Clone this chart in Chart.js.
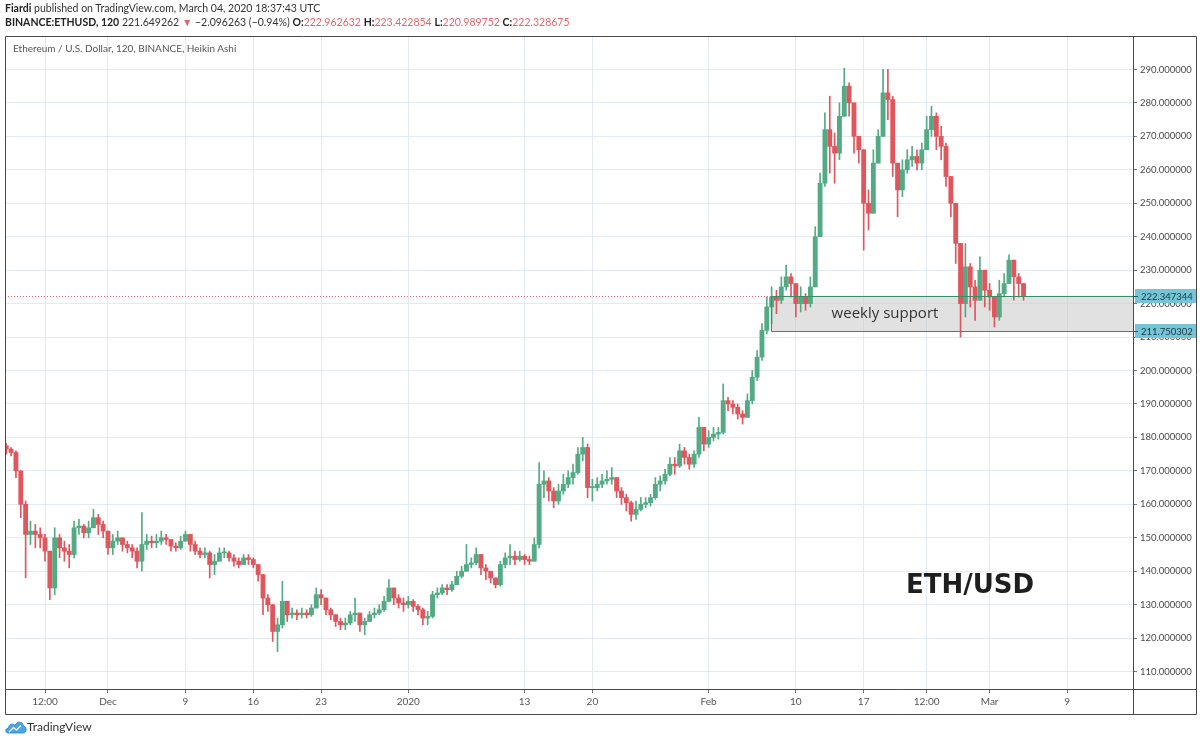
<!DOCTYPE html>
<html>
<head>
<meta charset="utf-8">
<title>ETH/USD</title>
<script src="https://cdn.jsdelivr.net/npm/chart.js@4.4.1/dist/chart.umd.min.js"></script>
<style>
  body { margin: 0; background: #fff; }
  #wrap { position: relative; width: 1200px; height: 740px; font-family: Lato, 'Open Sans', sans-serif; color: #333; overflow: hidden; }
  #wrap canvas { position: absolute; left: 0; top: 0; }
  .txt { position: absolute; white-space: nowrap; pointer-events: none; }
  .hdr { left: 5px; font-size: 10.5px; line-height: 14px; color: #333; }
  .red { color: #e0676f; }
  b { font-weight: 700; color: #222; }
</style>
</head>
<body>
<div id="wrap">
  <canvas id="ethChart" width="1200" height="740"></canvas>
  <div class="txt hdr" style="top:1px"><b>Fiardi</b> published on TradingView.com, March 04, 2020 18:37:43 UTC</div>
  <div class="txt hdr" style="top:15px"><b>BINANCE:ETHUSD, 120</b> 221.649262 <span class="red">&#9660;</span> &minus;2.096263 (&minus;0.94%) <b>O:</b><span class="red">222.962632</span> <b>H:</b><span class="red">223.422854</span> <b>L:</b><span class="red">220.989752</span> <b>C:</b><span class="red">222.328675</span></div>
  <div class="txt" style="left:13px; top:42px; font-size:10px; color:#555;">Ethereum / U.S. Dollar, 120, BINANCE, Heikin Ashi</div>
  <div class="txt" style="left:870px; width:200px; top:568px; text-align:center; font-family:'DejaVu Sans', sans-serif; font-weight:bold; font-size:26px; line-height:32px; color:#1e1e1e;">ETH/USD</div>
  <div class="txt" style="left:5px; top:718px;">
    <svg width="22" height="14" viewBox="0 0 22 14">
      <path d="M3 13 C0 13 0 8 3.5 8 C3.5 4 8 3 10 5.5 C11.5 1 18 1 18.5 6 C22 6 22 13 18.5 13 Z" fill="#47a6e6" stroke="#2a7fc4" stroke-width="0.8"/>
      <path d="M4 12 L8.5 7.5 L11.5 10 L16 5.5" fill="none" stroke="#ffffff" stroke-width="1.2"/>
    </svg>
  </div>
  <div class="txt" style="left:27px; top:719px; font-size:12px; line-height:15px; color:#333;">TradingView</div>
</div>

<script>
// 12h Heikin Ashi candles, x = days from Dec 1 2019 (first candle Nov 20 12:00 UTC)
const startDay = -10.5;
const firstOpen = 177.5;

const closes = [
  176.5, 175.5, 170, 160, 151, 152, 151, 150, 146, 135,
  150, 147, 146, 145, 153, 153.5, 151.5, 153, 156, 154,
  152, 147, 149, 150, 148, 147, 146, 143, 148, 149,
  148.5, 149, 150, 149.5, 147.5, 147, 149, 151, 148, 146,
  145, 145.5, 142, 143, 145.5, 145.5, 144, 143, 142, 144,
  143.5, 142, 139, 132, 130, 122, 124, 131, 127, 127.5,
  127, 127.5, 127, 129, 133, 132, 128.5, 127, 125, 124,
  124.5, 127, 127.5, 124, 125, 127, 127.5, 128.5, 131, 135,
  132, 130.5, 130, 131, 129.5, 128.5, 126, 126.5, 133, 133.5,
  135, 134.5, 136, 138.5, 140, 142, 142.5, 145, 141, 140,
  138, 136, 142, 144, 144.5, 143.5, 144.5, 143.5, 143, 148,
  166, 167, 164, 161, 164, 166, 168, 169.5, 175, 177,
  165, 165, 166, 167, 167.5, 168, 164, 162, 160.5, 157,
  158.5, 160, 160.5, 162, 166, 167, 169, 172, 171.5, 176,
  174, 172, 175, 183, 178, 180, 181, 181.5, 191, 190,
  189, 187, 186, 191, 198, 204, 212, 219, 222, 221,
  225, 228, 226, 220, 222, 220, 225, 240, 256, 272,
  267, 265, 276, 285, 280, 270, 266, 250, 247, 262,
  270, 283, 281, 262, 254, 260, 263, 264, 262, 266,
  272, 276, 270, 267, 258, 250, 238, 220, 231, 225,
  221, 230, 224, 222, 216, 223, 226, 233, 228, 226,
  222.3
];

const highs = [
  178.2, 177, 176, 165, 161, 155, 154, 153, 151, 145,
  153, 151, 149, 148, 155, 155.5, 154, 155, 158.5, 157,
  155, 152, 151, 152, 150, 149, 148, 147, 157.5, 151,
  150.5, 151, 152, 151, 149, 148.5, 150.5, 152, 151, 149,
  147, 147, 146, 145, 147, 147, 146, 145, 144, 145,
  145, 144, 142, 139, 133, 130, 126, 137, 131, 129,
  128.5, 129, 128.5, 130, 135, 134.5, 131, 129, 127, 126,
  126, 128, 132, 127, 126, 128, 129, 130, 132.5, 137.5,
  135, 133, 132, 132.5, 131.5, 130, 129, 128, 134, 135,
  136, 136, 137, 140, 141.5, 148, 144, 147, 145, 142,
  140, 138, 143, 145.5, 148, 146, 146, 145, 144.5, 150,
  172.5, 170, 168, 165, 166, 169, 170, 172, 177, 180,
  178, 167.5, 168, 169, 170, 171, 168, 165, 163, 161,
  161, 162, 162, 163, 168, 168.5, 170.5, 174, 174, 178,
  177, 175, 176, 186, 183, 182, 183, 183, 196, 192,
  191, 190, 188, 193, 200, 206, 214, 222, 225, 224,
  228, 231.5, 229, 226, 225, 223, 228, 243, 259, 277,
  282, 271, 280, 290.4, 286, 278, 270, 266, 254, 266,
  272, 290, 290, 282, 262, 263, 266, 267, 266, 268,
  276, 279, 277, 273, 268, 258, 250, 238, 238, 232,
  227, 234, 230, 226, 222, 227, 229, 234.6, 232, 229,
  226
];

const lows = [
  175, 174.5, 168, 156, 138, 148, 147, 147, 143, 131.5,
  133, 144, 143, 141, 144, 151, 150, 150, 153, 151,
  150, 145, 145, 148, 146, 145.5, 144, 141, 140, 146.5,
  147, 147, 148, 148, 146, 146, 146.5, 149, 146, 145,
  144, 144, 138, 139, 143, 144, 143, 141.5, 141, 142,
  142, 141, 137, 127, 128, 119, 116, 123, 125, 126,
  125.5, 126, 126, 126.5, 129, 130, 127, 125.5, 123.5, 122.5,
  122.5, 124, 125, 122, 121, 125, 126, 127, 128, 131,
  130, 129, 128, 129, 128, 127, 124, 124, 126, 132,
  133, 133, 134, 136, 138, 140, 141, 142, 139, 137.5,
  136.5, 135, 135.5, 141, 142, 142, 143, 142, 142, 143,
  147, 162, 161, 159, 160, 163, 165, 166, 169, 173,
  162, 161, 164, 165, 166, 166, 162, 160, 158, 155,
  155.5, 158, 159, 159.5, 161.5, 164, 166, 168.5, 169, 171,
  172, 170.5, 171, 174, 176, 177, 179, 179.5, 181, 188,
  187, 185.5, 184, 186, 190, 197, 203, 211, 214, 217,
  220, 224, 222, 216, 217.5, 218, 219, 225, 240, 255,
  259, 256, 263, 276, 276, 265, 262, 236, 242, 247,
  262, 270, 275, 258, 246, 252, 259, 261, 260, 260,
  266, 270, 266, 263, 255, 246, 232, 210, 216, 219,
  215, 221, 219, 218, 213, 215, 222, 227, 221, 222,
  221
];

// time axis labels (days from Dec 1)
const xTickDays = [-6.5, 0, 8, 15, 22, 31, 43, 50, 62, 71, 78, 84.5, 91, 99];
const xTickLabels = ['12:00', 'Dec', '9', '16', '23', '2020', '13', '20', 'Feb', '10', '17', '12:00', 'Mar', '9'];
const yTicks = [110, 120, 130, 140, 150, 160, 170, 180, 190, 200, 210, 220, 230, 240, 250, 260, 270, 280, 290];

// drawings
const supportTop = 222.347344;
const supportBottom = 211.750302;
const supportStartDay = 68.4;
const lastClose = 222.328675;

const upColor = '#52ab84';
const downColor = '#e0565d';

const candles = closes.map((c, i) => {
    const o = i === 0 ? firstOpen : closes[i - 1];
    return { x: startDay + i * 0.5, o: o, c: c, h: highs[i], l: lows[i] };
});
const colors = candles.map(k => k.c >= k.o ? upColor : downColor);

const overlay = {
    id: 'overlay',
    beforeDatasetsDraw(chart) {
        const { ctx, chartArea: a, scales: { x, y } } = chart;
        const yt = y.getPixelForValue(supportTop);
        const yb = y.getPixelForValue(supportBottom);
        const xs = x.getPixelForValue(supportStartDay);
        ctx.save();
        ctx.fillStyle = 'rgba(205,205,205,0.6)';
        ctx.fillRect(xs, yt, a.right - xs, yb - yt);
        // last price line
        const yl = Math.round(y.getPixelForValue(lastClose)) + 0.5;
        ctx.strokeStyle = '#e5606a';
        ctx.lineWidth = 1;
        ctx.setLineDash([1, 2]);
        ctx.beginPath();
        ctx.moveTo(a.left, yl);
        ctx.lineTo(a.right, yl);
        ctx.stroke();
        ctx.restore();
    },
    afterDatasetsDraw(chart) {
        const { ctx, chartArea: a, scales: { x, y } } = chart;
        const yt = Math.round(y.getPixelForValue(supportTop)) + 0.5;
        const yb = Math.round(y.getPixelForValue(supportBottom)) + 0.5;
        const xs = Math.round(x.getPixelForValue(supportStartDay)) + 0.5;
        ctx.save();
        ctx.strokeStyle = '#3d8a66';
        ctx.lineWidth = 1;
        ctx.beginPath();
        ctx.moveTo(a.right, yt); ctx.lineTo(xs, yt); ctx.lineTo(xs, yb); ctx.lineTo(a.right, yb);
        ctx.stroke();
        ctx.fillStyle = '#333';
        ctx.font = '15px "Open Sans", sans-serif';
        ctx.textAlign = 'center';
        ctx.textBaseline = 'middle';
        ctx.fillText('weekly support', x.getPixelForValue(80.2), y.getPixelForValue(217));
        ctx.restore();
    },
    afterDraw(chart) {
        const { ctx, chartArea: a, scales: { y } } = chart;
        const R = 1196.5, B = 714.5;
        ctx.save();
        ctx.strokeStyle = '#4a4a4a';
        ctx.lineWidth = 1;
        ctx.beginPath();
        ctx.moveTo(a.left + 0.5, a.top + 0.5); ctx.lineTo(R, a.top + 0.5);
        ctx.moveTo(a.left + 0.5, a.top + 0.5); ctx.lineTo(a.left + 0.5, B);
        ctx.moveTo(a.left + 0.5, a.bottom + 0.5); ctx.lineTo(R, a.bottom + 0.5);
        ctx.moveTo(a.left + 0.5, B); ctx.lineTo(R, B);
        ctx.moveTo(a.right + 0.5, a.top + 0.5); ctx.lineTo(a.right + 0.5, B);
        ctx.moveTo(R, a.top + 0.5); ctx.lineTo(R, B);
        ctx.stroke();
        // price labels of the support zone
        ctx.font = '9.5px Lato, sans-serif';
        ctx.textBaseline = 'middle';
        ctx.textAlign = 'left';
        [supportTop, supportBottom].forEach(v => {
            const py = Math.round(y.getPixelForValue(v));
            ctx.fillStyle = '#74c6d6';
            ctx.fillRect(a.right + 2, py - 7, R - a.right - 2.5, 14);
            ctx.strokeStyle = '#2d5566';
            ctx.beginPath();
            ctx.moveTo(a.right + 1, py + 0.5); ctx.lineTo(a.right + 5, py + 0.5);
            ctx.stroke();
            ctx.fillStyle = '#1d3340';
            ctx.fillText(v.toFixed(6), a.right + 8, py + 0.5);
        });
        ctx.restore();
    }
};

Chart.defaults.font.family = 'Lato, "Open Sans", sans-serif';

new Chart(document.getElementById('ethChart'), {
    type: 'bar',
    data: {
        datasets: [{
            label: 'body',
            data: candles.map(k => ({ x: k.x, y: [k.o, k.c] })),
            backgroundColor: colors,
            barThickness: 4.2,
            minBarLength: 1
        }, {
            label: 'wick',
            data: candles.map(k => ({ x: k.x, y: [Math.min(k.l, k.o, k.c), Math.max(k.h, k.o, k.c)] })),
            backgroundColor: colors,
            barThickness: 1
        }]
    },
    options: {
        responsive: false,
        animation: false,
        devicePixelRatio: 1,
        grouped: false,
        layout: { padding: { left: 5, top: 36, right: 4, bottom: 25 } },
        plugins: {
            legend: { display: false },
            tooltip: { enabled: false }
        },
        scales: {
            x: {
                type: 'linear',
                offset: false,
                min: -10.63,
                max: 105.8,
                afterFit: s => { s.height = 26; },
                afterBuildTicks: s => { s.ticks = xTickDays.map(v => ({ value: v })); },
                grid: { color: '#e3ebf0', offset: false, tickLength: 4, tickColor: '#777' },
                border: { display: false },
                ticks: {
                    autoSkip: false,
                    maxRotation: 0,
                    padding: 3,
                    color: '#555',
                    font: { size: 10 },
                    callback: (v, i) => xTickLabels[i]
                }
            },
            y: {
                position: 'right',
                min: 104.8,
                max: 300,
                afterFit: s => { s.width = 63; },
                afterBuildTicks: s => { s.ticks = yTicks.map(v => ({ value: v })); },
                grid: { color: '#e3ebf0', tickLength: 4, tickColor: '#777' },
                border: { display: false },
                ticks: {
                    padding: 3,
                    color: '#4a4a4a',
                    font: { size: 9.5 },
                    callback: v => v.toFixed(6)
                }
            }
        }
    },
    plugins: [overlay]
});
</script>
</body>
</html>
